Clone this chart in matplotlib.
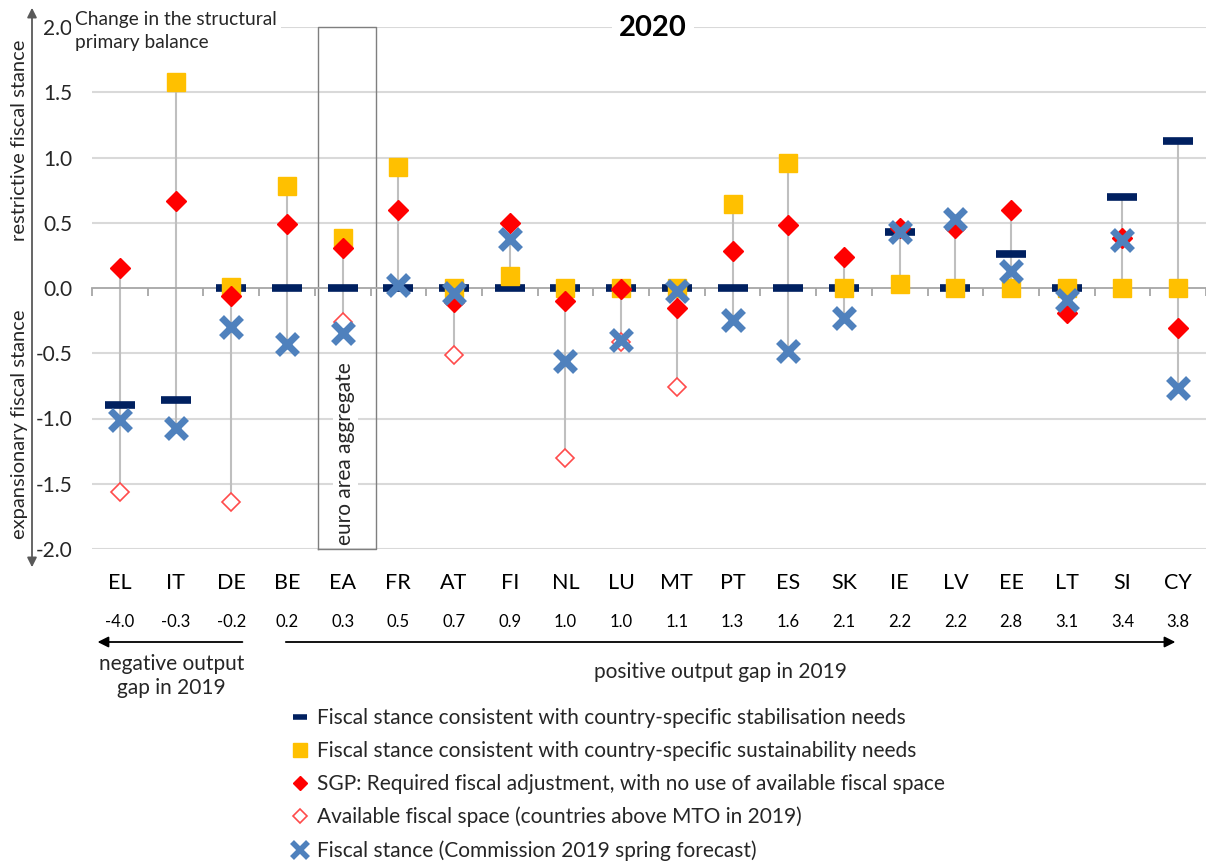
import matplotlib
matplotlib.use('Agg')
import matplotlib.pyplot as plt
import numpy as np
from matplotlib.lines import Line2D
from matplotlib.transforms import blended_transform_factory

plt.rcParams['font.family'] = ['Lato', 'DejaVu Sans']

nan = np.nan
countries = ['EL', 'IT', 'DE', 'BE', 'EA', 'FR', 'AT', 'FI', 'NL', 'LU',
             'MT', 'PT', 'ES', 'SK', 'IE', 'LV', 'EE', 'LT', 'SI', 'CY']
output_gap_2019 = ['-4.0', '-0.3', '-0.2', '0.2', '0.3', '0.5', '0.7', '0.9', '1.0', '1.0',
                   '1.1', '1.3', '1.6', '2.1', '2.2', '2.2', '2.8', '3.1', '3.4', '3.8']
stabilisation = [-0.90, -0.86, 0.0, 0.0, 0.0, 0.0, 0.0, 0.0, 0.0, 0.0,
                 0.0, 0.0, 0.0, 0.0, 0.43, 0.0, 0.26, 0.0, 0.70, 1.13]
sustainability = [nan, 1.58, 0.01, 0.78, 0.38, 0.93, 0.0, 0.09, 0.0, 0.0,
                  0.0, 0.645, 0.96, 0.0, 0.03, 0.0, 0.0, 0.0, 0.0, 0.0]
sgp_required = [0.15, 0.67, -0.06, 0.49, 0.31, 0.60, -0.11, 0.50, -0.10, -0.01,
                -0.15, 0.28, 0.48, 0.24, 0.46, 0.46, 0.60, -0.19, 0.38, -0.31]
fiscal_space = [-1.56, nan, -1.64, nan, -0.26, nan, -0.51, nan, -1.30, -0.41,
                -0.76, nan, nan, nan, nan, nan, nan, nan, nan, nan]
fiscal_stance = [-1.01, -1.07, -0.30, -0.43, -0.345, 0.025, -0.04, 0.375, -0.56, -0.40,
                 -0.02, -0.245, -0.48, -0.23, 0.43, 0.53, 0.13, -0.09, 0.37, -0.765]
yticks = [-2.0, -1.5, -1.0, -0.5, 0.0, 0.5, 1.0, 1.5, 2.0]

legend_labels = [
    'Fiscal stance consistent with country-specific stabilisation needs',
    'Fiscal stance consistent with country-specific sustainability needs',
    'SGP: Required fiscal adjustment, with no use of available fiscal space',
    'Available fiscal space (countries above MTO in 2019)',
    'Fiscal stance (Commission 2019 spring forecast)',
]

NAVY = '#002060'
GOLD = '#FFC000'
RED = '#FF0000'
OPENRED = '#FF4B4B'
BLUE = '#4F81BD'
GRID = '#D9D9D9'
AXIS = '#A6A6A6'
TXT = '#262626'

W, H = 1206, 861
fig = plt.figure(figsize=(W / 100, H / 100), dpi=100)
ax = fig.add_axes([92 / W, 1 - 549 / H, (1206 - 92) / W, (549 - 27) / H])

x = np.arange(len(countries))
allv = np.array([stabilisation, sustainability, sgp_required, fiscal_space, fiscal_stance], dtype=float)
lo = np.nanmin(allv, axis=0)
hi = np.nanmax(allv, axis=0)

# gridlines
for yv in yticks:
    if yv != 0:
        ax.axhline(yv, color=GRID, lw=1.5, zorder=0)

# vertical range lines
ax.vlines(x, lo, hi, color='#BFBFBF', lw=1.5, zorder=1)

# euro area box
ax.plot([3.56, 3.56, 4.60, 4.60, 3.56], [-2.0, 2.0, 2.0, -2.0, -2.0],
        color='#7F7F7F', lw=1.0, zorder=1.5, clip_on=False)

# series
ax.plot(x, stabilisation, ls='none', marker='_', ms=21, mew=5.5, color=NAVY, zorder=3)
ax.plot(x, sustainability, ls='none', marker='s', ms=13, color=GOLD, mec=GOLD, zorder=4)
ax.plot(x, sgp_required, ls='none', marker='D', ms=10, color=RED, mec=RED, zorder=5)
ax.plot(x, fiscal_space, ls='none', marker='D', ms=9.5, mfc='white', mec=OPENRED, mew=1.2, zorder=5)
ax.plot(x, fiscal_stance, ls='none', marker='x', ms=14, mew=5, color=BLUE, zorder=6)

ax.set_xlim(-0.5, len(countries) - 0.5)
ax.set_ylim(-2.0, 2.0)

for s in ['top', 'right', 'left']:
    ax.spines[s].set_visible(False)
ax.spines['bottom'].set_position(('data', 0))
ax.spines['bottom'].set_color(AXIS)
ax.spines['bottom'].set_linewidth(1.3)
ax.set_xticks(x)
ax.set_xticklabels([])
ax.tick_params(axis='x', which='major', length=0)
ax.set_xticks(np.arange(-0.5, len(countries), 1.0), minor=True)
ax.tick_params(axis='x', which='minor', length=6, width=1.3, color=AXIS, direction='out')

ax.set_yticks(yticks)
ax.set_yticklabels([f'{v:.1f}' for v in yticks], fontsize=15, color=TXT)
ax.tick_params(axis='y', length=0, pad=14)

# euro area label
ax.text(4.05, -1.27, 'euro area aggregate', rotation=90, ha='center', va='center',
        fontsize=15, color=TXT, zorder=7,
        bbox=dict(facecolor='white', edgecolor='none', pad=2))

# category labels and output gap row
tr = blended_transform_factory(ax.transData, fig.transFigure)
for i, (c, g) in enumerate(zip(countries, output_gap_2019)):
    fig.text(i, 1 - 583 / H, c, transform=tr, ha='center', va='center', fontsize=15.5, color='black')
    fig.text(i, 1 - 622 / H, g, transform=tr, ha='center', va='center', fontsize=12, color='black')

# output gap arrows
ax.annotate('', xy=(-0.45, 1 - 642 / H), xytext=(2.25, 1 - 642 / H), xycoords=tr, textcoords=tr,
            arrowprops=dict(arrowstyle='-|>', color='black', lw=1.3, mutation_scale=16), annotation_clip=False)
ax.annotate('', xy=(19.0, 1 - 642 / H), xytext=(2.93, 1 - 642 / H), xycoords=tr, textcoords=tr,
            arrowprops=dict(arrowstyle='-|>', color='black', lw=1.3, mutation_scale=16), annotation_clip=False)
fig.text(0.93, 1 - 676 / H, 'negative output\ngap in 2019', transform=tr, ha='center', va='center',
         fontsize=15, color=TXT, linespacing=1.25)
fig.text(10.78, 1 - 672 / H, 'positive output gap in 2019', transform=tr, ha='center', va='center',
         fontsize=15, color=TXT)

# y axis arrow
fig.add_artist(matplotlib.patches.FancyArrowPatch((32 / W, 1 - 570 / H), (32 / W, 1 - 5 / H),
               transform=fig.transFigure, arrowstyle='<|-|>', mutation_scale=14,
               color='#595959', lw=1.3))
fig.text(20 / W, 1 - 140 / H, 'restrictive fiscal stance', rotation=90, ha='center', va='center',
         fontsize=14.5, color=TXT)
fig.text(20 / W, 1 - 424 / H, 'expansionary fiscal stance', rotation=90, ha='center', va='center',
         fontsize=14.5, color=TXT)

# top-left note and title
fig.text(75 / W, 1 - 11 / H, 'Change in the structural\nprimary balance', ha='left', va='top',
         fontsize=13.8, color=TXT, linespacing=1.45, zorder=10,
         bbox=dict(facecolor='white', edgecolor='none', pad=3))
fig.text(653 / W, 1 - 28 / H, '2020', ha='center', va='center', fontsize=21, fontweight='bold',
         color='black', zorder=10, bbox=dict(facecolor='white', edgecolor='none', pad=5))

# legend
handles = [
    Line2D([], [], ls='none', marker='_', ms=10, mew=4, color=NAVY),
    Line2D([], [], ls='none', marker='s', ms=10, color=GOLD),
    Line2D([], [], ls='none', marker='D', ms=7.5, color=RED),
    Line2D([], [], ls='none', marker='D', ms=7, mfc='white', mec=OPENRED, mew=1.2),
    Line2D([], [], ls='none', marker='x', ms=11, mew=4, color=BLUE),
]
fig.legend(handles, legend_labels, loc='upper left', bbox_to_anchor=(290 / W, 1 - 708 / H),
           frameon=False, fontsize=15, handlelength=1.0, handletextpad=0.3,
           labelspacing=0.62, borderpad=0, borderaxespad=0, labelcolor=TXT)

fig.savefig('out.png', dpi=100)
